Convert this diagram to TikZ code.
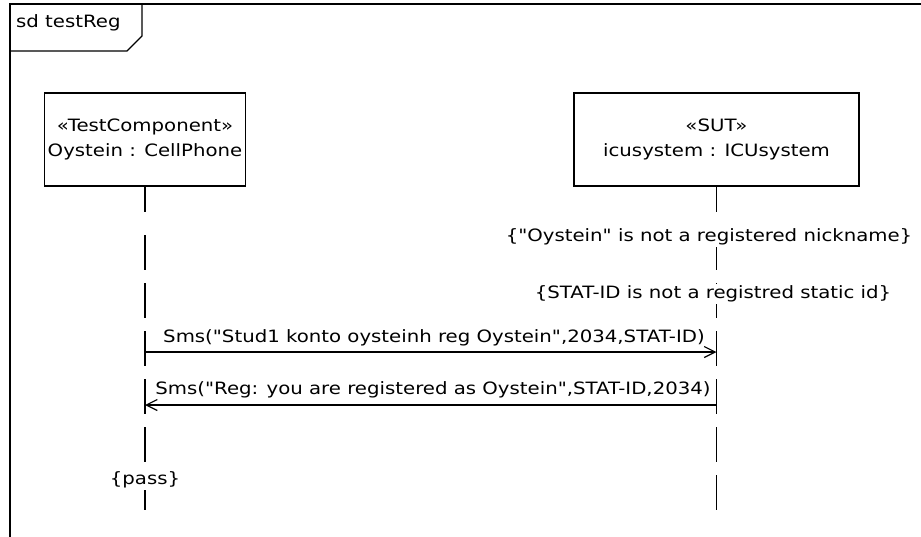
\documentclass[tikz,border=0pt]{standalone}
\usepackage{fontspec}
\setmainfont[FakeStretch=1.16, Ligatures=TeXOff]{DejaVu Sans}
\usetikzlibrary{arrows.meta}
\begin{document}
\begin{tikzpicture}[x=1pt,y=-1pt,
  lbl/.style={font=\fontsize{17}{25}\selectfont, inner sep=1pt},
  lifebox/.style={draw, line width=1.4pt, align=center, minimum height=93pt,
    font=\fontsize{17}{25}\selectfont},
  lifeline/.style={line width=1.5pt},
  lifedash/.style={line width=1.5pt, dash pattern=on 35pt off 13pt},
  msg/.style={line width=1.2pt, -{Straight Barb[length=11pt,width=11pt,line width=1.2pt]}},
  constr/.style={lbl, fill=white, inner sep=2pt}]
\useasboundingbox (0,0) rectangle (921,536);
\begin{scope}
  \clip (0,0) rectangle (921,536);
  \draw[line width=2pt] (10,545) -- (10,4) -- (930,4);
\end{scope}
\draw[line width=1.4pt] (142,4) -- (142,36) -- (127,51) -- (10,51);
\node[lbl, anchor=west] (title) at (15,23) {sd testReg};

\node[lifebox, minimum width=199pt] (cp) at (145,139.5) {«TestComponent»\\Oystein : CellPhone};
\node[lifebox, minimum width=285pt] (sut) at (716.5,139.5) {«SUT»\\icusystem : ICUsystem};

\path (0,212) coordinate (ya) (0,235) coordinate (yb) (0,518) coordinate (yend)
      (0,352) coordinate (y1) (0,405) coordinate (y2);
\coordinate (cpA) at (cp.south |- ya);
\coordinate (cpB) at (cp.south |- yb);
\coordinate (cpEnd) at (cp.south |- yend);
\coordinate (sutA) at (sut.south |- ya);
\coordinate (sutB) at (sut.south |- yb);
\coordinate (sutEnd) at (sut.south |- yend);
\draw[lifeline] (cp.south) -- (cpA);
\draw[lifedash] (cpB) -- (cpEnd);
\draw[lifeline] (sut.south) -- (sutA);
\draw[lifedash] (sutB) -- (sutEnd);

\node[constr] (c1) at (709,237) {\{"Oystein" is not a registered nickname\}};
\node[constr] (c2) at (713,294) {\{STAT-ID is not a registred static id\}};
\node[constr] (pass) at (145,480) {\{pass\}};

\coordinate (m1a) at (cp.south |- y1);
\coordinate (m1b) at (sut.south |- y1);
\coordinate (m2a) at (sut.south |- y2);
\coordinate (m2b) at (cp.south |- y2);
\draw[msg] (m1a) -- (m1b);
\draw[msg] (m2a) -- (m2b);
\node[lbl] (l1) at (434,338) {Sms("Stud1 konto oysteinh reg Oystein",2034,STAT-ID)};
\node[lbl] (l2) at (433,390) {Sms("Reg: you are registered as Oystein",STAT-ID,2034)};
\end{tikzpicture}
\end{document}
